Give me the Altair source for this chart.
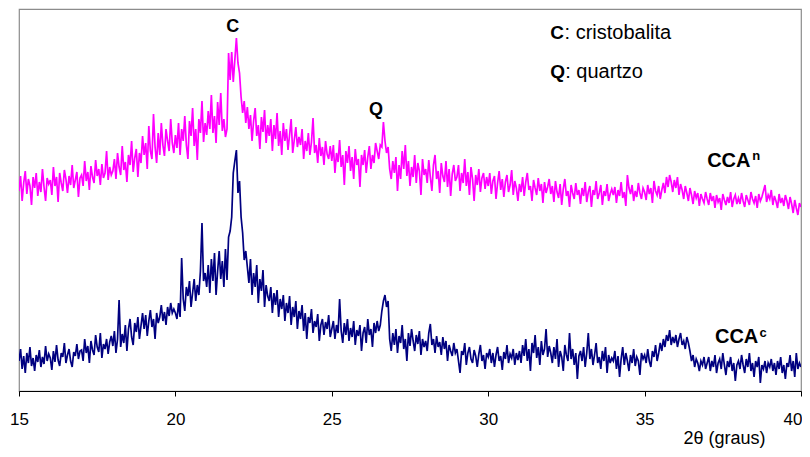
import altair as alt
import numpy as np
import pandas as pd

# 2-theta grid: 15.00 .. 40.00, step 0.05
x_start = 15.0
x_step = 0.05

# CCA^n (magenta) intensities, arbitrary units
cca_n = [
    200, 215, 190, 208, 220, 197, 212, 205, 186, 214, 203, 218, 195, 209, 199, 222, 204, 190, 213, 207,
    211, 196, 224, 205, 214, 189, 218, 208, 200, 221, 212, 198, 215, 206, 226, 203, 211, 219, 194, 213,
    216, 205, 230, 210, 219, 201, 225, 214, 208, 231, 215, 222, 206, 227, 213, 218, 240, 211, 224, 216,
    220, 232, 212, 238, 224, 216, 245, 221, 229, 209, 236, 226, 250, 219, 233, 242, 214, 238, 228, 255,
    236, 248, 222, 265, 240, 232, 277, 244, 228, 258, 236, 268, 246, 235, 262, 250, 240, 272, 248, 238,
    256, 243, 268, 236, 262, 250, 275, 246, 232, 270, 255, 283, 245, 262, 231, 272, 258, 290, 249, 268,
    256, 280, 262, 296, 258, 275, 248, 289, 266, 298, 260, 272, 254,
    262, 338, 311, 339, 309, 331, 353, 328, 318, 294, 278, 290, 268, 284,
    262, 276, 250, 270, 283, 255, 266, 242, 274, 259, 281, 248, 266,
    255, 272, 240, 266, 252, 278, 245, 260, 236, 268, 250, 262, 241, 256, 272, 238, 251, 264, 244, 254,
    246, 262, 232, 250, 240, 258, 236, 249, 273, 238, 246, 228, 253, 235, 244, 226, 250, 237, 232, 245,
    230, 246, 218, 238, 229, 251, 224, 236, 206, 240, 228, 245, 220, 234, 212, 242, 226, 232, 204, 236,
    226, 241, 218, 234, 245, 222, 236, 228, 248, 240, 232, 246, 244, 269, 250, 238, 244, 222, 212, 230,
    218, 234, 200, 226, 212, 240, 222, 246, 215, 230, 205, 224, 214, 236, 208, 228, 220, 196, 232, 216,
    222, 208, 231, 214, 200, 226, 236, 212, 220, 198, 228, 215, 209, 230, 204, 222, 195, 217, 226, 210,
    214, 226, 200, 218, 208, 232, 205, 219, 196, 224, 212, 190, 216, 206, 222, 199, 213, 218, 202, 214,
    205, 218, 197, 210, 215, 192, 208, 220, 201, 212, 194, 209, 216, 199, 206, 221, 196, 210, 203, 190,
    207, 199, 214, 195, 209, 218, 201, 205, 190, 211, 203, 196, 213, 200, 207, 188, 209, 198, 204, 212,
    197, 205, 189, 210, 199, 193, 207, 186, 202, 212, 195, 200, 184, 206, 198, 192, 208, 196, 201, 187,
    203, 195, 209, 189, 199, 205, 184, 201, 196, 210, 192, 198, 206, 186, 200, 195, 207, 190, 197, 202,
    196, 204, 188, 201, 195, 209, 193, 199, 185, 216, 203, 197, 206, 190, 200, 194, 208, 198, 192, 203,
    199, 191, 206, 197, 203, 188, 210, 200, 196, 205, 192, 201, 208, 198, 214, 204, 216, 209, 199, 211,
    203, 214, 196, 207, 201, 192, 205, 198, 190, 203, 196, 187, 200, 193, 198, 185, 197, 192, 188, 199,
    192, 186, 198, 190, 195, 183, 196, 189, 193, 181, 197, 191, 186, 194, 188, 199, 184, 192, 196, 187,
    193, 187, 198, 190, 184, 196, 191, 186, 199, 192, 188, 195, 183, 197, 190, 194, 200, 206, 189, 196,
    192, 201, 186, 195, 190, 183, 197, 188, 193, 185, 196, 190, 182, 194, 187, 178, 191, 183, 176, 188,
    184,
]

# CCA^c (navy) intensities
cca_c = [
    30, 42, 22, 35, 18, 38, 28, 44, 25, 33, 20, 36, 29, 41, 24, 34, 27, 45, 30, 37,
    33, 21, 40, 29, 46, 31, 25, 38, 34, 48, 28, 36, 42, 30, 24, 39, 35, 47, 32, 40,
    41, 30, 52, 38, 45, 28, 50, 41, 36, 56, 44, 39, 58, 33, 47, 42, 52, 37, 49, 55,
    45, 60, 38, 52, 91, 44, 57, 48, 66, 40, 62, 72, 54, 46, 68, 59, 74, 52, 65, 78,
    62, 76, 55, 70, 81, 64, 72, 52, 78, 68, 74, 86, 70, 79, 66, 84, 75, 88, 78, 82,
    78, 72, 88, 74, 133, 92, 80, 104, 95, 110, 84, 98, 112, 90, 106, 96, 120, 168, 110, 118,
    104, 126, 98, 132, 110, 138, 96, 120, 140, 112, 130, 104, 142,
    111, 154, 160, 174, 218, 230, 241, 198, 210, 174, 158, 131, 140, 124,
    108, 132, 96, 118, 104, 126, 88, 112, 100, 121, 84, 106, 95,
    90, 104, 78, 98, 86, 101, 74, 92, 82, 96, 70, 88, 78, 95, 66, 84, 74, 90, 62, 80,
    72, 86, 60, 78, 52, 74, 68, 82, 58, 70, 64, 77, 50, 66, 72, 56, 69, 62, 76, 54,
    62, 70, 52, 66, 58, 92, 60, 48, 68, 56, 72, 50, 63, 54, 70, 46, 61, 55, 66, 40,
    58, 64, 48, 72, 56, 62, 44, 68, 58, 70, 60, 66, 80, 90, 96, 84, 90, 52, 40, 58,
    46, 62, 38, 55, 48, 66, 42, 52, 30, 58, 45, 62, 50, 40, 56, 47, 60, 36, 52, 44,
    50, 40, 58, 67, 46, 52, 38, 55, 44, 49, 36, 54, 42, 50, 30, 46, 40, 35, 48, 38,
    42, 30, 18, 40, 36, 48, 26, 38, 44, 32, 28, 41, 35, 24, 37, 46, 30, 36, 22, 38,
    34, 42, 28, 38, 24, 36, 44, 30, 35, 21, 39, 32, 46, 28, 37, 33, 42, 26, 38, 31,
    40, 28, 46, 35, 52, 30, 42, 20, 48, 38, 56, 33, 44, 26, 50, 36, 42, 62, 34, 45,
    38, 28, 44, 32, 52, 24, 40, 34, 20, 46, 36, 30, 58, 32, 42, 26, 38, 12, 35, 40,
    30, 44, 24, 38, 58, 32, 42, 26, 36, 48, 28, 34, 22, 40, 30, 44, 18, 36, 28, 33,
    30, 40, 22, 35, 14, 32, 44, 26, 38, 30, 20, 36, 28, 42, 25, 34, 30, 16, 38, 32,
    36, 28, 42, 30, 24, 40, 34, 46, 30, 38, 48, 40, 52, 44, 56, 50, 61, 46, 54, 48,
    56, 44, 52, 58, 46, 50, 42, 54, 48, 40, 30, 36, 24, 32, 28, 20, 30, 26, 34, 22,
    28, 34, 20, 30, 24, 36, 18, 28, 32, 22, 38, 26, 16, 30, 24, 34, 20, 28, 10, 26,
    30, 22, 36, 26, 18, 32, 24, 38, 20, 28, 14, 30, 24, 34, 8, 26, 22, 30, 18, 28,
    24, 32, 20, 28, 16, 30, 22, 34, 18, 26, 12, 28, 24, 36, 20, 30, 14, 38, 22, 28,
    24,
]

x_ticks = [15, 20, 25, 30, 35, 40]

# annotations
peak_text = ["C", "Q"]
peak_x = [21.83, 26.41]
peak_y = [364, 281]

key_text = ["C", "Q"]
key_desc = [": cristobalita", ": quartzo"]
key_x = [31.98, 31.98]
desc_x = [32.44, 32.46]
key_y = [358, 319]

series_text = ["CCA", "CCA"]
series_sup = ["n", "c"]
series_x = [37.0, 37.25]
sup_x = [38.44, 38.67]
series_y = [230, 54]
sup_y = [235, 58]

FONT = "Liberation Sans"


def make_df(vals):
    n = len(vals)
    xs = np.round(x_start + x_step * np.arange(n), 3)
    return pd.DataFrame({"x": xs, "y": vals})


df_n = make_df(cca_n)
df_c = make_df(cca_c)

xs = alt.X(
    "x:Q",
    scale=alt.Scale(domain=[15, 40], nice=False, zero=False),
    axis=alt.Axis(
        values=x_ticks,
        title="2θ (graus)",
        grid=False,
        domainColor="black",
        domainWidth=1,
        tickColor="black",
        tickSize=5,
        labelFontSize=17,
        labelColor="black",
        labelPadding=15,
        labelFont=FONT,
        labelAlign=alt.expr("datum.value == 40 ? 'right' : 'center'"),
        labelOffset=alt.expr("datum.value == 40 ? 1 : 0"),
        titleFont=FONT,
        titleFontSize=18,
        titleFontWeight="normal",
        titleColor="black",
        titleAlign="center",
        titleAnchor="start",
        titleX=705,
        titleY=47,
        titleBaseline="middle",
    ),
)
ys = alt.Y("y:Q", scale=alt.Scale(domain=[0, 382], nice=False, zero=False), axis=None)

line_n = alt.Chart(df_n).mark_line(color="#FF00FF", strokeWidth=1.7, clip=True).encode(x=xs, y=ys)
line_c = alt.Chart(df_c).mark_line(color="#000080", strokeWidth=1.7, clip=True).encode(x=xs, y=ys)

peaks = alt.Chart(pd.DataFrame({"x": peak_x, "y": peak_y, "t": peak_text})).mark_text(
    font=FONT, fontSize=18, fontWeight="bold", color="black", align="center", baseline="middle"
).encode(x="x:Q", y="y:Q", text="t:N")

keys = alt.Chart(pd.DataFrame({"x": key_x, "y": key_y, "t": key_text})).mark_text(
    font=FONT, fontSize=19, fontWeight="bold", color="black", align="left", baseline="middle"
).encode(x="x:Q", y="y:Q", text="t:N")

descs = alt.Chart(pd.DataFrame({"x": desc_x, "y": key_y, "t": key_desc})).mark_text(
    font=FONT, fontSize=20, color="black", align="left", baseline="middle"
).encode(x="x:Q", y="y:Q", text="t:N")

slabels = alt.Chart(pd.DataFrame({"x": series_x, "y": series_y, "t": series_text})).mark_text(
    font=FONT, fontSize=20, fontWeight="bold", color="black", align="left", baseline="middle"
).encode(x="x:Q", y="y:Q", text="t:N")

sups = alt.Chart(pd.DataFrame({"x": sup_x, "y": sup_y, "t": series_sup})).mark_text(
    font=FONT, fontSize=13, fontWeight="bold", color="black", align="left", baseline="middle"
).encode(x="x:Q", y="y:Q", text="t:N")

chart = (
    alt.layer(line_n, line_c, peaks, keys, descs, slabels, sups)
    .properties(
        width=782,
        height=382,
        padding={"left": 11, "top": 1, "right": 1, "bottom": 58},
        autosize=alt.AutoSizeParams(type="none"),
        background="white",
    )
    .configure_view(stroke="#8c8c8c", strokeWidth=1.2)
)

chart.save("out.html", embed_options={"renderer": "svg", "actions": False})
